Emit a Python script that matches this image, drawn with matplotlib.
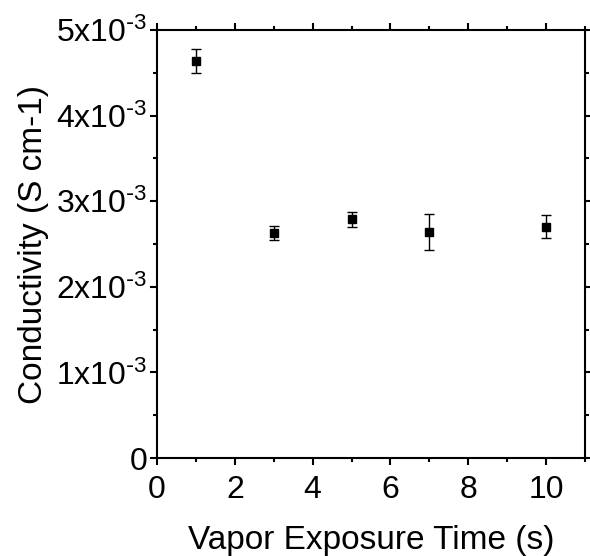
import matplotlib
matplotlib.use("Agg")
import matplotlib.pyplot as plt
from matplotlib.ticker import MultipleLocator, FixedLocator

plt.rcParams['font.family'] = ['Liberation Sans', 'DejaVu Sans']
plt.rcParams['mathtext.default'] = 'regular'

# exposure time (s) and conductivity (S/cm)
times = [1, 3, 5, 7, 10]
cond = [4.64e-3, 2.63e-3, 2.79e-3, 2.64e-3, 2.70e-3]
err = [0.14e-3, 0.08e-3, 0.087e-3, 0.21e-3, 0.135e-3]

yticks = [0, 1e-3, 2e-3, 3e-3, 4e-3, 5e-3]
ylabels = ["0"] + [r"%dx10$^{\text{-}3}$" % i for i in range(1, 6)]

fig = plt.figure(figsize=(5.9, 5.56), dpi=100)
ax = fig.add_axes([157/590, 1 - 458/556, 428/590, 428/556])

ax.errorbar(times, cond, yerr=err, fmt='s', color='black', ms=6,
            ecolor='black', elinewidth=1, capsize=3.5, capthick=1)

ax.set_xlim(0, 11)
ax.set_ylim(0, 5e-3)
ax.xaxis.set_major_locator(MultipleLocator(2))
ax.xaxis.set_minor_locator(MultipleLocator(1))
ax.yaxis.set_major_locator(FixedLocator(yticks))
ax.yaxis.set_minor_locator(MultipleLocator(0.5e-3))
ax.set_yticklabels(ylabels)

ax.tick_params(which='both', direction='out', top=True, right=True,
               labelsize=23, width=1.5)
ax.tick_params(which='major', length=5)
ax.tick_params(which='minor', length=3)
ax.tick_params(axis='x', which='major', pad=7)
ax.tick_params(axis='y', which='major', pad=2)
for s in ax.spines.values():
    s.set_linewidth(1.5)

ax.set_xlabel("Vapor Exposure Time (s)", fontsize=24, labelpad=15)
ax.set_ylabel("Conductivity (S cm-1)", fontsize=24, labelpad=5)

fig.savefig("out.png", dpi=100)
